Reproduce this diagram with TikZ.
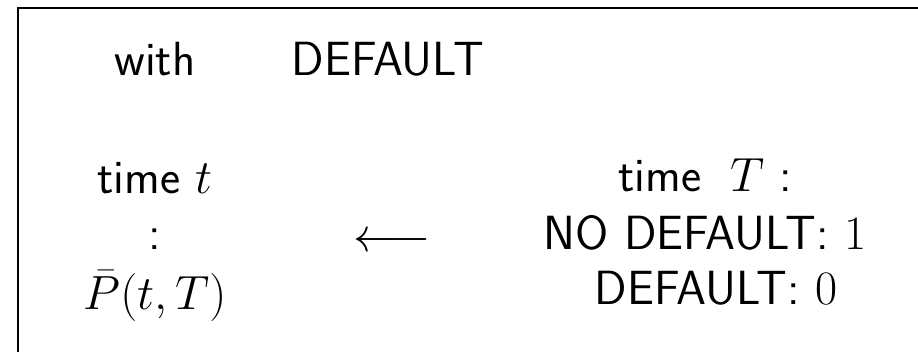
\RequirePackage{fix-cm}
\documentclass[tikz,border=0pt]{standalone}
\begin{document}
\begin{tikzpicture}[x=1pt,y=-1pt,
  txt/.style={anchor=base,inner sep=0pt,font=\fontsize{48}{56}\selectfont\sffamily}]
\useasboundingbox (0,0) rectangle (918,352);
\draw[line width=2pt] (18,8) rectangle (940,380);
\node[txt] (with) at (155,76) {with};
\node[txt] (def) at (388,76) {DEFAULT};
\node[txt] (timet) at (155,194) {time \(t\)};
\node[txt] (colon) at (155,250) {:};
\node[txt] (pbar) at (155,310) {\(\bar{P}(t,T)\)};
\node[txt] (arrow) at (392,252) {\(\longleftarrow\)};
\node[txt] (timeT) at (705,192) {time\hspace{0.6em}\(T\) :};
\node[txt] (nodef) at (705,250) {NO DEFAULT: \(1\)};
\node[txt] (defz) at (716,305) {DEFAULT: \(0\)};
\end{tikzpicture}
\end{document}
